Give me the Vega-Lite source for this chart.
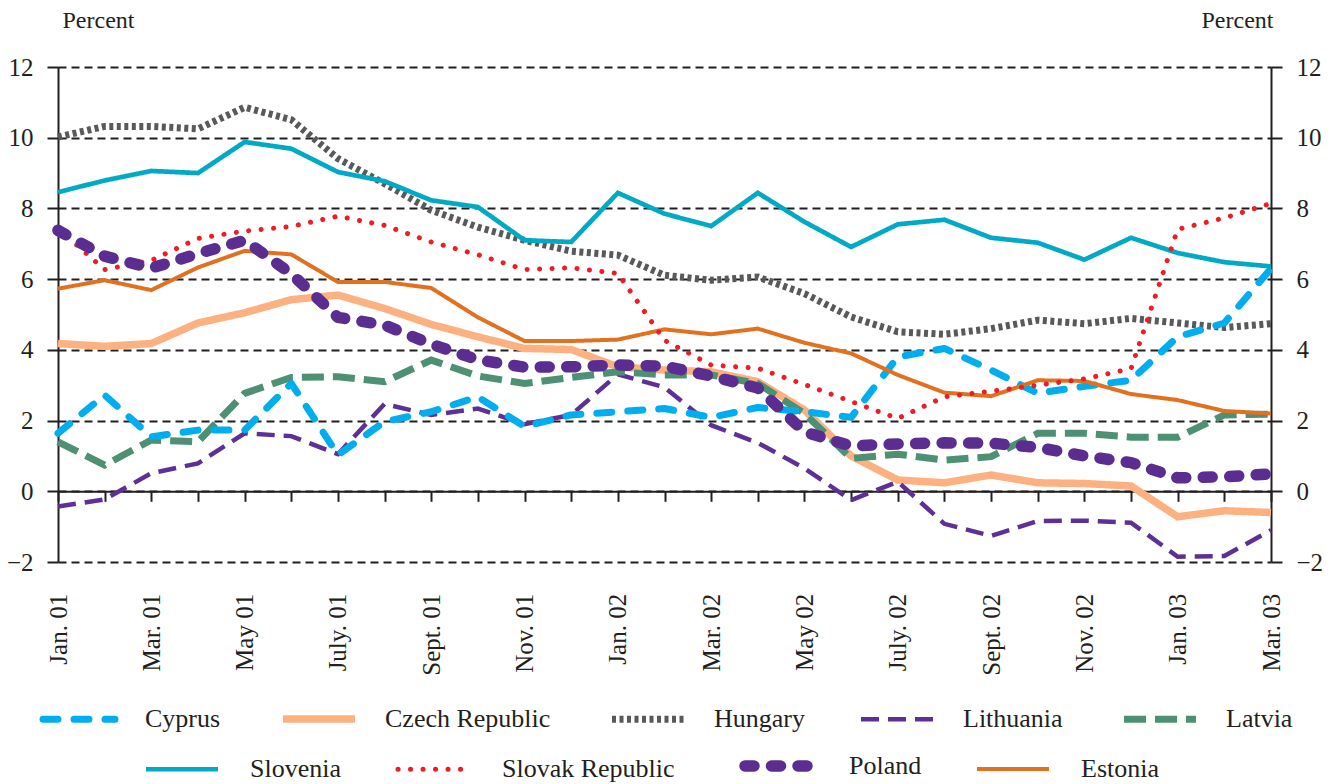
{
 "$schema": "https://vega.github.io/schema/vega-lite/v6.json",
 "width": 1213,
 "height": 495,
 "autosize": "none",
 "padding": {"left": 58, "top": 67, "right": 66, "bottom": 222},
 "background": "white",
 "config": {
  "font": "Liberation Serif",
  "view": {"stroke": null},
  "axis": {"labelFont": "Liberation Serif", "titleFont": "Liberation Serif", "labelColor": "#231F20", "titleColor": "#231F20"},
  "legend": {"labelFont": "Liberation Serif", "labelFontSize": 26, "labelColor": "#231F20", "labelLimit": 500}
 },
 "data": {"values": [
  {"month":"Jan. 01","country":"Cyprus","value":1.64},{"month":"Feb. 01","country":"Cyprus","value":2.72},{"month":"Mar. 01","country":"Cyprus","value":1.54},{"month":"Apr. 01","country":"Cyprus","value":1.73},{"month":"May 01","country":"Cyprus","value":1.73},{"month":"June 01","country":"Cyprus","value":3.05},{"month":"July. 01","country":"Cyprus","value":1.03},{"month":"Aug. 01","country":"Cyprus","value":1.97},{"month":"Sept. 01","country":"Cyprus","value":2.25},{"month":"Oct. 01","country":"Cyprus","value":2.67},{"month":"Nov. 01","country":"Cyprus","value":1.83},{"month":"Dec. 01","country":"Cyprus","value":2.16},{"month":"Jan. 02","country":"Cyprus","value":2.25},{"month":"Feb. 02","country":"Cyprus","value":2.34},{"month":"Mar. 02","country":"Cyprus","value":2.09},{"month":"Apr. 02","country":"Cyprus","value":2.37},{"month":"May 02","country":"Cyprus","value":2.25},{"month":"June 02","country":"Cyprus","value":2.09},{"month":"July. 02","country":"Cyprus","value":3.80},{"month":"Aug. 02","country":"Cyprus","value":4.04},{"month":"Sept. 02","country":"Cyprus","value":3.43},{"month":"Oct. 02","country":"Cyprus","value":2.77},{"month":"Nov. 02","country":"Cyprus","value":2.97},{"month":"Dec. 02","country":"Cyprus","value":3.14},{"month":"Jan. 03","country":"Cyprus","value":4.37},{"month":"Feb. 03","country":"Cyprus","value":4.76},{"month":"Mar. 03","country":"Cyprus","value":6.30},
  {"month":"Jan. 01","country":"Czech Republic","value":4.18},{"month":"Feb. 01","country":"Czech Republic","value":4.10},{"month":"Mar. 01","country":"Czech Republic","value":4.18},{"month":"Apr. 01","country":"Czech Republic","value":4.76},{"month":"May 01","country":"Czech Republic","value":5.05},{"month":"June 01","country":"Czech Republic","value":5.42},{"month":"July. 01","country":"Czech Republic","value":5.55},{"month":"Aug. 01","country":"Czech Republic","value":5.17},{"month":"Sept. 01","country":"Czech Republic","value":4.72},{"month":"Oct. 01","country":"Czech Republic","value":4.37},{"month":"Nov. 01","country":"Czech Republic","value":4.04},{"month":"Dec. 01","country":"Czech Republic","value":4.01},{"month":"Jan. 02","country":"Czech Republic","value":3.52},{"month":"Feb. 02","country":"Czech Republic","value":3.43},{"month":"Mar. 02","country":"Czech Republic","value":3.38},{"month":"Apr. 02","country":"Czech Republic","value":3.10},{"month":"May 02","country":"Czech Republic","value":2.30},{"month":"June 02","country":"Czech Republic","value":1.00},{"month":"July. 02","country":"Czech Republic","value":0.32},{"month":"Aug. 02","country":"Czech Republic","value":0.24},{"month":"Sept. 02","country":"Czech Republic","value":0.46},{"month":"Oct. 02","country":"Czech Republic","value":0.24},{"month":"Nov. 02","country":"Czech Republic","value":0.22},{"month":"Dec. 02","country":"Czech Republic","value":0.15},{"month":"Jan. 03","country":"Czech Republic","value":-0.72},{"month":"Feb. 03","country":"Czech Republic","value":-0.55},{"month":"Mar. 03","country":"Czech Republic","value":-0.60},
  {"month":"Jan. 01","country":"Hungary","value":10.02},{"month":"Feb. 01","country":"Hungary","value":10.32},{"month":"Mar. 01","country":"Hungary","value":10.32},{"month":"Apr. 01","country":"Hungary","value":10.25},{"month":"May 01","country":"Hungary","value":10.86},{"month":"June 01","country":"Hungary","value":10.51},{"month":"July. 01","country":"Hungary","value":9.41},{"month":"Aug. 01","country":"Hungary","value":8.70},{"month":"Sept. 01","country":"Hungary","value":7.95},{"month":"Oct. 01","country":"Hungary","value":7.47},{"month":"Nov. 01","country":"Hungary","value":7.10},{"month":"Dec. 01","country":"Hungary","value":6.79},{"month":"Jan. 02","country":"Hungary","value":6.68},{"month":"Feb. 02","country":"Hungary","value":6.11},{"month":"Mar. 02","country":"Hungary","value":5.97},{"month":"Apr. 02","country":"Hungary","value":6.06},{"month":"May 02","country":"Hungary","value":5.59},{"month":"June 02","country":"Hungary","value":4.93},{"month":"July. 02","country":"Hungary","value":4.51},{"month":"Aug. 02","country":"Hungary","value":4.44},{"month":"Sept. 02","country":"Hungary","value":4.60},{"month":"Oct. 02","country":"Hungary","value":4.84},{"month":"Nov. 02","country":"Hungary","value":4.74},{"month":"Dec. 02","country":"Hungary","value":4.89},{"month":"Jan. 03","country":"Hungary","value":4.76},{"month":"Feb. 03","country":"Hungary","value":4.63},{"month":"Mar. 03","country":"Hungary","value":4.74},
  {"month":"Jan. 01","country":"Lithuania","value":-0.43},{"month":"Feb. 01","country":"Lithuania","value":-0.23},{"month":"Mar. 01","country":"Lithuania","value":0.51},{"month":"Apr. 01","country":"Lithuania","value":0.79},{"month":"May 01","country":"Lithuania","value":1.64},{"month":"June 01","country":"Lithuania","value":1.56},{"month":"July. 01","country":"Lithuania","value":1.05},{"month":"Aug. 01","country":"Lithuania","value":2.47},{"month":"Sept. 01","country":"Lithuania","value":2.16},{"month":"Oct. 01","country":"Lithuania","value":2.34},{"month":"Nov. 01","country":"Lithuania","value":1.90},{"month":"Dec. 01","country":"Lithuania","value":2.16},{"month":"Jan. 02","country":"Lithuania","value":3.31},{"month":"Feb. 02","country":"Lithuania","value":2.94},{"month":"Mar. 02","country":"Lithuania","value":1.87},{"month":"Apr. 02","country":"Lithuania","value":1.37},{"month":"May 02","country":"Lithuania","value":0.65},{"month":"June 02","country":"Lithuania","value":-0.25},{"month":"July. 02","country":"Lithuania","value":0.27},{"month":"Aug. 02","country":"Lithuania","value":-0.92},{"month":"Sept. 02","country":"Lithuania","value":-1.26},{"month":"Oct. 02","country":"Lithuania","value":-0.84},{"month":"Nov. 02","country":"Lithuania","value":-0.83},{"month":"Dec. 02","country":"Lithuania","value":-0.89},{"month":"Jan. 03","country":"Lithuania","value":-1.85},{"month":"Feb. 03","country":"Lithuania","value":-1.83},{"month":"Mar. 03","country":"Lithuania","value":-1.10},
  {"month":"Jan. 01","country":"Latvia","value":1.40},{"month":"Feb. 01","country":"Latvia","value":0.74},{"month":"Mar. 01","country":"Latvia","value":1.45},{"month":"Apr. 01","country":"Latvia","value":1.40},{"month":"May 01","country":"Latvia","value":2.77},{"month":"June 01","country":"Latvia","value":3.22},{"month":"July. 01","country":"Latvia","value":3.24},{"month":"Aug. 01","country":"Latvia","value":3.10},{"month":"Sept. 01","country":"Latvia","value":3.71},{"month":"Oct. 01","country":"Latvia","value":3.26},{"month":"Nov. 01","country":"Latvia","value":3.05},{"month":"Dec. 01","country":"Latvia","value":3.22},{"month":"Jan. 02","country":"Latvia","value":3.38},{"month":"Feb. 02","country":"Latvia","value":3.29},{"month":"Mar. 02","country":"Latvia","value":3.29},{"month":"Apr. 02","country":"Latvia","value":3.05},{"month":"May 02","country":"Latvia","value":2.20},{"month":"June 02","country":"Latvia","value":0.93},{"month":"July. 02","country":"Latvia","value":1.05},{"month":"Aug. 02","country":"Latvia","value":0.88},{"month":"Sept. 02","country":"Latvia","value":0.98},{"month":"Oct. 02","country":"Latvia","value":1.64},{"month":"Nov. 02","country":"Latvia","value":1.64},{"month":"Dec. 02","country":"Latvia","value":1.53},{"month":"Jan. 03","country":"Latvia","value":1.53},{"month":"Feb. 03","country":"Latvia","value":2.16},{"month":"Mar. 03","country":"Latvia","value":2.18},
  {"month":"Jan. 01","country":"Slovenia","value":8.46},{"month":"Feb. 01","country":"Slovenia","value":8.79},{"month":"Mar. 01","country":"Slovenia","value":9.06},{"month":"Apr. 01","country":"Slovenia","value":9.00},{"month":"May 01","country":"Slovenia","value":9.88},{"month":"June 01","country":"Slovenia","value":9.69},{"month":"July. 01","country":"Slovenia","value":9.03},{"month":"Aug. 01","country":"Slovenia","value":8.77},{"month":"Sept. 01","country":"Slovenia","value":8.23},{"month":"Oct. 01","country":"Slovenia","value":8.04},{"month":"Nov. 01","country":"Slovenia","value":7.10},{"month":"Dec. 01","country":"Slovenia","value":7.05},{"month":"Jan. 02","country":"Slovenia","value":8.44},{"month":"Feb. 02","country":"Slovenia","value":7.85},{"month":"Mar. 02","country":"Slovenia","value":7.50},{"month":"Apr. 02","country":"Slovenia","value":8.44},{"month":"May 02","country":"Slovenia","value":7.62},{"month":"June 02","country":"Slovenia","value":6.91},{"month":"July. 02","country":"Slovenia","value":7.55},{"month":"Aug. 02","country":"Slovenia","value":7.68},{"month":"Sept. 02","country":"Slovenia","value":7.17},{"month":"Oct. 02","country":"Slovenia","value":7.03},{"month":"Nov. 02","country":"Slovenia","value":6.55},{"month":"Dec. 02","country":"Slovenia","value":7.17},{"month":"Jan. 03","country":"Slovenia","value":6.74},{"month":"Feb. 03","country":"Slovenia","value":6.48},{"month":"Mar. 03","country":"Slovenia","value":6.36},
  {"month":"Jan. 01","country":"Slovak Republic","value":7.43},{"month":"Feb. 01","country":"Slovak Republic","value":6.27},{"month":"Mar. 01","country":"Slovak Republic","value":6.53},{"month":"Apr. 01","country":"Slovak Republic","value":7.15},{"month":"May 01","country":"Slovak Republic","value":7.36},{"month":"June 01","country":"Slovak Republic","value":7.49},{"month":"July. 01","country":"Slovak Republic","value":7.78},{"month":"Aug. 01","country":"Slovak Republic","value":7.52},{"month":"Sept. 01","country":"Slovak Republic","value":7.05},{"month":"Oct. 01","country":"Slovak Republic","value":6.69},{"month":"Nov. 01","country":"Slovak Republic","value":6.27},{"month":"Dec. 01","country":"Slovak Republic","value":6.32},{"month":"Jan. 02","country":"Slovak Republic","value":6.16},{"month":"Feb. 02","country":"Slovak Republic","value":4.27},{"month":"Mar. 02","country":"Slovak Republic","value":3.57},{"month":"Apr. 02","country":"Slovak Republic","value":3.48},{"month":"May 02","country":"Slovak Republic","value":3.02},{"month":"June 02","country":"Slovak Republic","value":2.54},{"month":"July. 02","country":"Slovak Republic","value":2.06},{"month":"Aug. 02","country":"Slovak Republic","value":2.67},{"month":"Sept. 02","country":"Slovak Republic","value":2.83},{"month":"Oct. 02","country":"Slovak Republic","value":3.00},{"month":"Nov. 02","country":"Slovak Republic","value":3.18},{"month":"Dec. 02","country":"Slovak Republic","value":3.47},{"month":"Jan. 03","country":"Slovak Republic","value":7.41},{"month":"Feb. 03","country":"Slovak Republic","value":7.73},{"month":"Mar. 03","country":"Slovak Republic","value":8.14},
  {"month":"Jan. 01","country":"Poland","value":7.38},{"month":"Feb. 01","country":"Poland","value":6.65},{"month":"Mar. 01","country":"Poland","value":6.31},{"month":"Apr. 01","country":"Poland","value":6.72},{"month":"May 01","country":"Poland","value":7.10},{"month":"June 01","country":"Poland","value":6.15},{"month":"July. 01","country":"Poland","value":4.92},{"month":"Aug. 01","country":"Poland","value":4.70},{"month":"Sept. 01","country":"Poland","value":4.16},{"month":"Oct. 01","country":"Poland","value":3.72},{"month":"Nov. 01","country":"Poland","value":3.51},{"month":"Dec. 01","country":"Poland","value":3.52},{"month":"Jan. 02","country":"Poland","value":3.57},{"month":"Feb. 02","country":"Poland","value":3.54},{"month":"Mar. 02","country":"Poland","value":3.26},{"month":"Apr. 02","country":"Poland","value":2.92},{"month":"May 02","country":"Poland","value":1.68},{"month":"June 02","country":"Poland","value":1.28},{"month":"July. 02","country":"Poland","value":1.34},{"month":"Aug. 02","country":"Poland","value":1.37},{"month":"Sept. 02","country":"Poland","value":1.36},{"month":"Oct. 02","country":"Poland","value":1.24},{"month":"Nov. 02","country":"Poland","value":1.00},{"month":"Dec. 02","country":"Poland","value":0.81},{"month":"Jan. 03","country":"Poland","value":0.38},{"month":"Feb. 03","country":"Poland","value":0.41},{"month":"Mar. 03","country":"Poland","value":0.49},
  {"month":"Jan. 01","country":"Estonia","value":5.73},{"month":"Feb. 01","country":"Estonia","value":5.97},{"month":"Mar. 01","country":"Estonia","value":5.69},{"month":"Apr. 01","country":"Estonia","value":6.33},{"month":"May 01","country":"Estonia","value":6.80},{"month":"June 01","country":"Estonia","value":6.70},{"month":"July. 01","country":"Estonia","value":5.92},{"month":"Aug. 01","country":"Estonia","value":5.92},{"month":"Sept. 01","country":"Estonia","value":5.75},{"month":"Oct. 01","country":"Estonia","value":4.92},{"month":"Nov. 01","country":"Estonia","value":4.25},{"month":"Dec. 01","country":"Estonia","value":4.25},{"month":"Jan. 02","country":"Estonia","value":4.29},{"month":"Feb. 02","country":"Estonia","value":4.58},{"month":"Mar. 02","country":"Estonia","value":4.44},{"month":"Apr. 02","country":"Estonia","value":4.60},{"month":"May 02","country":"Estonia","value":4.20},{"month":"June 02","country":"Estonia","value":3.90},{"month":"July. 02","country":"Estonia","value":3.29},{"month":"Aug. 02","country":"Estonia","value":2.79},{"month":"Sept. 02","country":"Estonia","value":2.69},{"month":"Oct. 02","country":"Estonia","value":3.14},{"month":"Nov. 02","country":"Estonia","value":3.12},{"month":"Dec. 02","country":"Estonia","value":2.75},{"month":"Jan. 03","country":"Estonia","value":2.58},{"month":"Feb. 03","country":"Estonia","value":2.27},{"month":"Mar. 03","country":"Estonia","value":2.20}
 ]},
 "encoding": {
  "x": {
   "field": "month", "type": "ordinal",
   "scale": {"type": "point", "padding": 0, "domain": ["Jan. 01","Feb. 01","Mar. 01","Apr. 01","May 01","June 01","July. 01","Aug. 01","Sept. 01","Oct. 01","Nov. 01","Dec. 01","Jan. 02","Feb. 02","Mar. 02","Apr. 02","May 02","June 02","July. 02","Aug. 02","Sept. 02","Oct. 02","Nov. 02","Dec. 02","Jan. 03","Feb. 03","Mar. 03"]},
   "axis": {
    "orient": "bottom", "offset": -70.7, "title": null, "grid": false,
    "domainColor": "#231F20", "domainWidth": 2, "tickColor": "#231F20", "tickWidth": 2, "tickSize": 10,
    "labelAngle": -90, "labelAlign": "right", "labelBaseline": "middle", "labelPadding": 92,
    "labelFont": "Liberation Serif", "labelFontSize": 25, "labelColor": "#231F20", "labelOverlap": false,
    "labelExpr": "indexof(['Jan. 01','Mar. 01','May 01','July. 01','Sept. 01','Nov. 01','Jan. 02','Mar. 02','May 02','July. 02','Sept. 02','Nov. 02','Jan. 03','Mar. 03'], datum.value) >= 0 ? datum.value : ''"
   }
  }
 },
 "layer": [
  {
   "transform": [{"filter": {"field": "country", "oneOf": ["Cyprus","Czech Republic","Hungary","Lithuania","Latvia"]}}],
   "encoding": {
    "y": {"field": "value", "type": "quantitative",
     "scale": {"domain": [-2, 12], "nice": false, "zero": false},
     "axis": {"orient": "left", "values": [-2,0,2,4,6,8,10,12], "grid": true, "gridColor": "#231F20", "gridDash": [8,5], "gridWidth": 1.8,
      "domainColor": "#231F20", "domainWidth": 2, "tickColor": "#231F20", "tickWidth": 2, "tickSize": 11, "labelPadding": 14,
      "labelFont": "Liberation Serif", "labelFontSize": 25, "labelColor": "#231F20",
      "title": "Percent", "titleFont": "Liberation Serif", "titleColor": "#231F20", "titleAngle": 0, "titleAlign": "center", "titleBaseline": "middle", "titleX": 40, "titleY": -47, "titleFontSize": 24, "titleFontWeight": "normal"}},
    "color": {"field": "country", "type": "nominal",
     "scale": {"domain": ["Cyprus","Czech Republic","Hungary","Lithuania","Latvia"], "range": ["#00AEEF","#FDB180","#58595B","#5E3095","#4D9073"]},
     "legend": {"orient": "none", "legendX": -19, "legendY": 612, "direction": "horizontal", "columns": 5, "title": null, "symbolType": "stroke", "symbolSize": 5184, "labelOffset": 26, "columnPadding": 47, "labelLimit": 500,
      "encode": {"symbols": {"update": {"strokeCap": [{"test": "datum.value === 'Cyprus'", "value": "round"}, {"value": "butt"}]}}}}},
    "strokeDash": {"field": "country", "type": "nominal",
     "scale": {"domain": ["Cyprus","Czech Republic","Hungary","Lithuania","Latvia"], "range": [[15,16],[1,0],[4,3.5],[18,9],[22,9]]}},
    "strokeWidth": {"field": "country", "type": "nominal",
     "scale": {"type": "ordinal", "domain": ["Cyprus","Czech Republic","Hungary","Lithuania","Latvia"], "range": [7,7.5,7,4.5,7]}}
   },
   "layer": [
    {"transform": [{"filter": "datum.country !== 'Cyprus'"}], "mark": {"type": "line", "strokeCap": "butt"}},
    {"transform": [{"filter": "datum.country === 'Cyprus'"}], "mark": {"type": "line", "strokeCap": "round", "strokeJoin": "round"}}
   ]
  },
  {
   "transform": [{"filter": {"field": "country", "oneOf": ["Slovenia","Slovak Republic","Poland","Estonia"]}}],
   "encoding": {
    "y": {"field": "value", "type": "quantitative",
     "scale": {"domain": [-2, 12], "nice": false, "zero": false},
     "axis": {"orient": "right", "values": [-2,0,2,4,6,8,10,12], "grid": false,
      "domainColor": "#231F20", "domainWidth": 2, "tickColor": "#231F20", "tickWidth": 2, "tickSize": 11, "labelPadding": 14,
      "labelFont": "Liberation Serif", "labelFontSize": 25, "labelColor": "#231F20",
      "title": "Percent", "titleFont": "Liberation Serif", "titleColor": "#231F20", "titleAngle": 0, "titleAlign": "center", "titleBaseline": "middle", "titleX": -34, "titleY": -47, "titleFontSize": 24, "titleFontWeight": "normal"}},
    "color": {"field": "country", "type": "nominal",
     "scale": {"domain": ["Slovenia","Slovak Republic","Poland","Estonia"], "range": ["#00A9C4","#EE1D25","#5C2D91","#E1711F"]},
     "legend": {"orient": "none", "legendX": 82, "legendY": 657, "direction": "horizontal", "columns": 4, "title": null, "symbolType": "stroke", "symbolSize": 5184, "labelOffset": 26, "columnPadding": 47, "labelLimit": 500,
      "encode": {"symbols": {"update": {"strokeCap": [{"test": "datum.value === 'Slovak Republic' || datum.value === 'Poland'", "value": "round"}, {"value": "butt"}]}}}}},
    "strokeDash": {"field": "country", "type": "nominal",
     "scale": {"domain": ["Slovenia","Slovak Republic","Poland","Estonia"], "range": [[1,0],[0.1,12.4],[9,17.5],[1,0]]}},
    "strokeWidth": {"field": "country", "type": "nominal",
     "scale": {"type": "ordinal", "domain": ["Slovenia","Slovak Republic","Poland","Estonia"], "range": [4.7,5,11.5,4]}}
   },
   "layer": [
    {"transform": [{"filter": "datum.country === 'Slovenia' || datum.country === 'Estonia'"}], "mark": {"type": "line", "strokeCap": "butt"}},
    {"transform": [{"filter": "datum.country === 'Slovak Republic' || datum.country === 'Poland'"}], "mark": {"type": "line", "strokeCap": "round", "strokeJoin": "round"}}
   ]
  }
 ],
 "resolve": {
  "scale": {"color": "independent", "strokeDash": "independent", "strokeWidth": "independent"},
  "axis": {"y": "independent"}
 }
}
